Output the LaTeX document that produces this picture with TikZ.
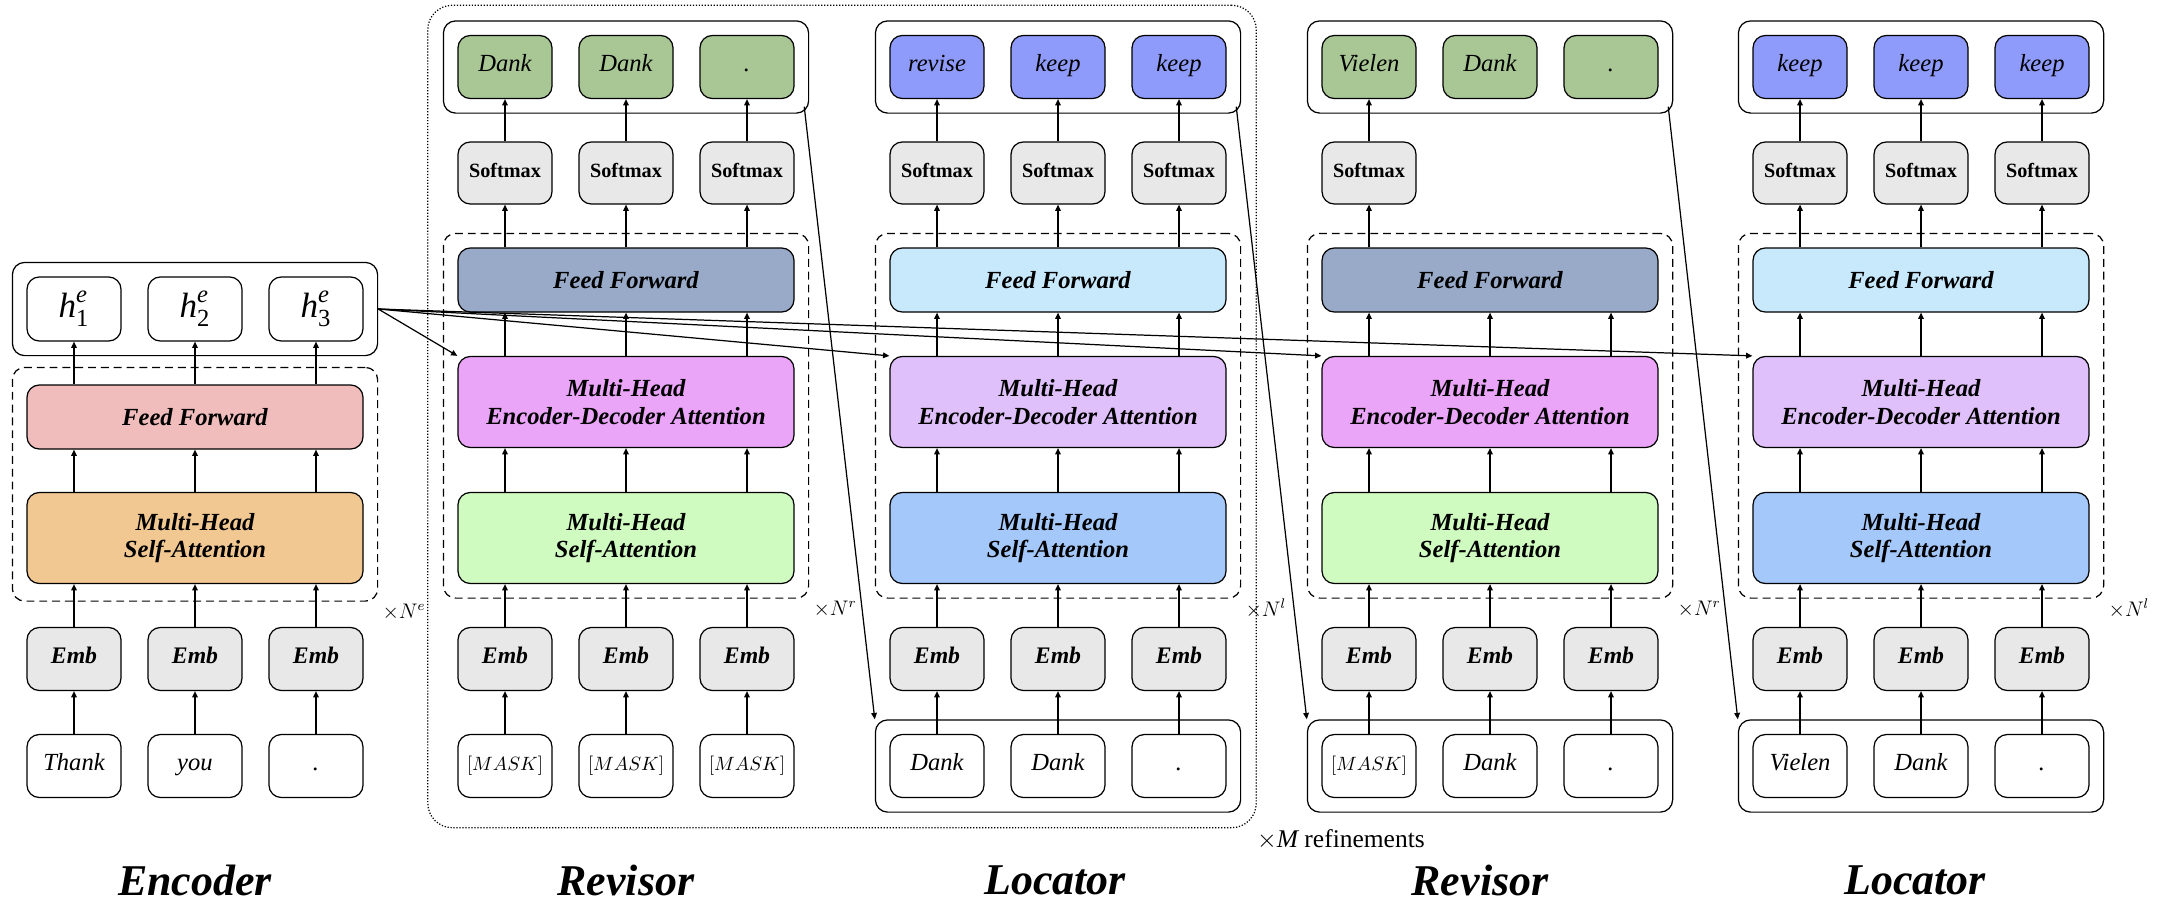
\documentclass[tikz,border=0pt]{standalone}
\usepackage{amsmath}
\usepackage{fontspec}
\setmainfont{Liberation Serif}
\usetikzlibrary{fit,arrows.meta}

\def\pxUnit{0.02cm}
\newcommand{\maskfont}{\fontsize{10.5}{12}\selectfont\upshape}

\definecolor{encff}{RGB}{240,188,188}
\definecolor{encsa}{RGB}{242,200,146}
\definecolor{revff}{RGB}{152,170,200}
\definecolor{revca}{RGB}{234,164,248}
\definecolor{revsa}{RGB}{207,250,192}
\definecolor{locff}{RGB}{200,232,252}
\definecolor{locca}{RGB}{224,192,250}
\definecolor{locsa}{RGB}{164,200,250}
\definecolor{wordout}{RGB}{168,199,148}
\definecolor{tagout}{RGB}{143,155,250}
\definecolor{embgray}{RGB}{232,232,232}

\tikzset{
  box/.style={rectangle, draw=black, line width=0.7pt, rounded corners=7pt, inner sep=0pt},
  tok/.style={box, minimum width=94*\pxUnit, minimum height=63*\pxUnit, text height=0.7em, text depth=0.22em, font=\fontsize{14}{15}\selectfont\itshape},
  emb/.style={tok, fill=embgray, font=\fontsize{13.5}{15}\selectfont\bfseries\itshape},
  soft/.style={tok, minimum height=62*\pxUnit, fill=embgray, font=\fontsize{11.5}{13}\selectfont\bfseries},
  layer/.style={box, minimum width=336*\pxUnit, align=center, font=\fontsize{14}{15.5}\selectfont\bfseries\itshape},
  stack/.style={box, dash pattern=on 4.5pt off 2.8pt, inner sep=14*\pxUnit},
  arr/.style={-{Triangle[length=3.6pt,width=3.2pt]}, line width=0.7pt},
  title/.style={font=\fontsize{25}{27}\selectfont\bfseries\itshape},
  rep/.style={anchor=west, inner sep=0pt, font=\fontsize{11.5}{13}\selectfont},
}

% decoder stack: name, left x, colours of FF / enc-dec / self-attention, repeat letter
\newcommand{\DrawDecoder}[6]{
  \node (#1-ff) at (#2+168, 280) [layer, fill=#3, minimum height=64*\pxUnit] {Feed Forward};
  \node (#1-ca) at (#2+168, 402) [layer, fill=#4, minimum height=91*\pxUnit] {Multi-Head\\Encoder-Decoder Attention};
  \node (#1-sa) at (#2+168, 538) [layer, fill=#5, minimum height=91*\pxUnit] {Multi-Head\\Self-Attention};
  \node (#1-stack) [stack, fit={(#1-ff) (#1-ca) (#1-sa)}] {};
  \node (#1-rep) at ([shift={(4,10)}]#1-stack.south east) [rep] {$\times N^{#6}$};
  \foreach \i/\dx in {1/47, 2/168, 3/289} {
    \node (#1-emb\i) at (#2+\dx, 659) [emb] {Emb};
    \draw[arr] (#1-emb\i) -- (#1-emb\i |- #1-sa.south);
    \draw[arr] (#1-emb\i |- #1-sa.north) -- (#1-emb\i |- #1-ca.south);
    \draw[arr] (#1-emb\i |- #1-ca.north) -- (#1-emb\i |- #1-ff.south);
  }
}

\begin{document}
\begin{tikzpicture}[x=0.02cm, y=-0.02cm]
\useasboundingbox (0,0) rectangle (2160,906);

% encoder
\node (enc-ff) at (195, 417) [layer, fill=encff, minimum height=64*\pxUnit] {Feed Forward};
\node (enc-sa) at (195, 538) [layer, fill=encsa, minimum height=91*\pxUnit] {Multi-Head\\Self-Attention};
\node (enc-stack) [stack, inner ysep=17*\pxUnit, fit={(enc-ff) (enc-sa)}] {};
\node (enc-rep) at ([shift={(4,10)}]enc-stack.south east) [rep] {$\times N^{e}$};
\foreach \i/\dx/\w in {1/74/Thank, 2/195/you, 3/316/.} {
  \node (enc-in\i) at (\dx, 766) [tok] {\w};
  \node (enc-emb\i) at (\dx, 659) [emb] {Emb};
  \node (enc-h\i) at (\dx, 309) [box, minimum width=94*\pxUnit, minimum height=64*\pxUnit, font=\fontsize{20}{22}\selectfont] {$\textit{h}_{\textrm{\i}}^{\textit{e}}$};
  \draw[arr] (enc-in\i) -- (enc-emb\i);
  \draw[arr] (enc-emb\i) -- (enc-emb\i |- enc-sa.south);
  \draw[arr] (enc-emb\i |- enc-sa.north) -- (enc-emb\i |- enc-ff.south);
  \draw[arr] (enc-emb\i |- enc-ff.north) -- (enc-h\i);
}
\node (enc-hbox) [box, inner sep=14*\pxUnit, fit={(enc-h1) (enc-h3)}] {};

\DrawDecoder{rev}{458}{revff}{revca}{revsa}{r}
\DrawDecoder{loc}{890}{locff}{locca}{locsa}{l}
\DrawDecoder{revb}{1322}{revff}{revca}{revsa}{r}
\DrawDecoder{locb}{1753}{locff}{locca}{locsa}{l}

% revisor, first pass
\foreach \i/\dx/\w in {1/47/Dank, 2/168/Dank, 3/289/.} {
  \node (rev-in\i) at (458+\dx, 766) [tok, font=\maskfont] {$[MASK]$};
  \node (rev-sm\i) at (458+\dx, 173) [soft] {Softmax};
  \node (rev-out\i) at (458+\dx, 67) [tok, fill=wordout] {\w};
  \draw[arr] (rev-in\i) -- (rev-emb\i);
  \draw[arr] (rev-emb\i |- rev-ff.north) -- (rev-sm\i);
  \draw[arr] (rev-sm\i) -- (rev-out\i);
}
\node (rev-outbox) [box, inner sep=14*\pxUnit, fit={(rev-out1) (rev-out3)}] {};

% locator, first pass
\foreach \i/\dx/\w/\t in {1/47/Dank/revise, 2/168/Dank/keep, 3/289/./keep} {
  \node (loc-in\i) at (890+\dx, 766) [tok] {\w};
  \node (loc-sm\i) at (890+\dx, 173) [soft] {Softmax};
  \node (loc-out\i) at (890+\dx, 67) [tok, fill=tagout] {\t};
  \draw[arr] (loc-in\i) -- (loc-emb\i);
  \draw[arr] (loc-emb\i |- loc-ff.north) -- (loc-sm\i);
  \draw[arr] (loc-sm\i) -- (loc-out\i);
}
\node (loc-inbox) [box, inner sep=14*\pxUnit, fit={(loc-in1) (loc-in3)}] {};
\node (loc-outbox) [box, inner sep=14*\pxUnit, fit={(loc-out1) (loc-out3)}] {};

% revisor, second pass
\foreach \i/\dx/\w/\t in {1/47/{\maskfont$[MASK]$}/Vielen, 2/168/Dank/Dank, 3/289/./.} {
  \node (revb-in\i) at (1322+\dx, 766) [tok] {\w};
  \node (revb-out\i) at (1322+\dx, 67) [tok, fill=wordout] {\t};
  \draw[arr] (revb-in\i) -- (revb-emb\i);
}
\node (revb-sm1) at (1322+47, 173) [soft] {Softmax};
\draw[arr] (revb-emb1 |- revb-ff.north) -- (revb-sm1);
\draw[arr] (revb-sm1) -- (revb-out1);
\node (revb-inbox) [box, inner sep=14*\pxUnit, fit={(revb-in1) (revb-in3)}] {};
\node (revb-outbox) [box, inner sep=14*\pxUnit, fit={(revb-out1) (revb-out3)}] {};

% locator, second pass
\foreach \i/\dx/\w in {1/47/Vielen, 2/168/Dank, 3/289/.} {
  \node (locb-in\i) at (1753+\dx, 766) [tok] {\w};
  \node (locb-sm\i) at (1753+\dx, 173) [soft] {Softmax};
  \node (locb-out\i) at (1753+\dx, 67) [tok, fill=tagout] {keep};
  \draw[arr] (locb-in\i) -- (locb-emb\i);
  \draw[arr] (locb-emb\i |- locb-ff.north) -- (locb-sm\i);
  \draw[arr] (locb-sm\i) -- (locb-out\i);
}
\node (locb-inbox) [box, inner sep=14*\pxUnit, fit={(locb-in1) (locb-in3)}] {};
\node (locb-outbox) [box, inner sep=14*\pxUnit, fit={(locb-out1) (locb-out3)}] {};

% refinement loop
\node (refine) [box, densely dotted, rounded corners=14pt, inner sep=15*\pxUnit, fit={(rev-outbox) (loc-inbox)}] {};
\node (refine-lbl) at ([shift={(0,11)}]refine.south east) [rep, font=\fontsize{14.5}{16}\selectfont] {$\times\mathit{M}$ refinements};

% encoder states into every enc-dec attention
\draw[arr] (enc-hbox.east) -- (rev-ca.north west);
\draw[arr] (enc-hbox.east) -- (loc-ca.north west);
\draw[arr] (enc-hbox.east) -- (revb-ca.north west);
\draw[arr] (enc-hbox.east) -- (locb-ca.north west);

% outputs feed the next stage
\draw[arr] ([shift={(-5,-7)}]rev-outbox.south east) -- (loc-inbox.north west);
\draw[arr] ([shift={(-5,-7)}]loc-outbox.south east) -- (revb-inbox.north west);
\draw[arr] ([shift={(-5,-7)}]revb-outbox.south east) -- (locb-inbox.north west);

\node (enc-title) at (195, 880) [title] {Encoder};
\node (rev-title) at (626, 880) [title] {Revisor};
\node (loc-title) at (1055, 880) [title] {Locator};
\node (revb-title) at (1480, 880) [title] {Revisor};
\node (locb-title) at (1915, 880) [title] {Locator};

\end{tikzpicture}
\end{document}
